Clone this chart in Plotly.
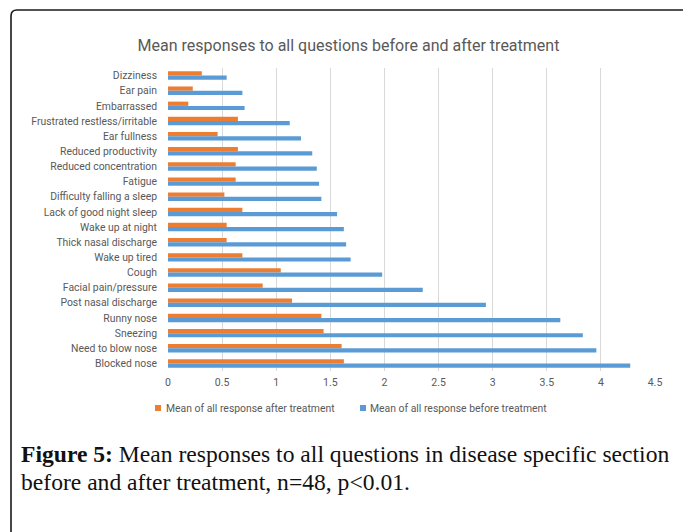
import plotly.graph_objects as go

categories = [
    "Dizziness", "Ear pain", "Embarrassed", "Frustrated restless/irritable",
    "Ear fullness", "Reduced productivity", "Reduced concentration", "Fatigue",
    "Difficulty falling a sleep", "Lack of good night sleep", "Wake up at night",
    "Thick nasal discharge", "Wake up tired", "Cough", "Facial pain/pressure",
    "Post nasal discharge", "Runny nose", "Sneezing", "Need to blow nose",
    "Blocked nose",
]
after_treatment = [
    0.3125, 0.229, 0.1875, 0.646, 0.458, 0.646, 0.625, 0.625, 0.521, 0.6875,
    0.542, 0.542, 0.6875, 1.042, 0.875, 1.146, 1.417, 1.4375, 1.604, 1.625,
]
before_treatment = [
    0.542, 0.6875, 0.708, 1.125, 1.229, 1.333, 1.375, 1.396, 1.417, 1.5625,
    1.625, 1.646, 1.6875, 1.979, 2.354, 2.9375, 3.625, 3.833, 3.958, 4.271,
]
x_ticks = [0, 0.5, 1, 1.5, 2, 2.5, 3, 3.5, 4, 4.5]
after_name = "Mean of all response after treatment"
before_name = "Mean of all response before treatment"
title_text = "Mean responses to all questions before and after treatment"
caption_line1 = "<b>Figure 5:</b> Mean responses to all questions in disease specific section"
caption_line2 = "before and after treatment, n=48, p<0.01."

ORANGE = "#ED7D31"
BLUE = "#5B9BD5"
GRAY = "#595959"
FONT = "Roboto, sans-serif"
SERIF = "Liberation Serif, Times New Roman, serif"

W, H = 683, 532
L, R, T, B = 168, 28, 68, 161
PW, PH = W - L - R, H - T - B


def px2x(px):
    return (px - L) / PW


def px2y(py):
    return (H - B - py) / PH


fig = go.Figure()
fig.add_trace(go.Bar(y=categories, x=after_treatment, orientation="h",
                     name=after_name, marker=dict(color=ORANGE, line=dict(width=0)),
                     showlegend=False))
fig.add_trace(go.Bar(y=categories, x=before_treatment, orientation="h",
                     name=before_name, marker=dict(color=BLUE, line=dict(width=0)),
                     showlegend=False))

# frame
frame_path = (f"M {px2x(11)},{px2y(534)} L {px2x(11)},{px2y(16)} "
              f"Q {px2x(11)},{px2y(10)} {px2x(17)},{px2y(10)} L {px2x(684)},{px2y(10)}")
shapes = [dict(type="path", xref="paper", yref="paper", path=frame_path,
               line=dict(color="#1a1a1a", width=1.6))]

# legend squares
for x0, col in [(155, ORANGE), (360, BLUE)]:
    shapes.append(dict(type="rect", xref="paper", yref="paper",
                       x0=px2x(x0), x1=px2x(x0 + 6), y0=px2y(411), y1=px2y(405),
                       fillcolor=col, line=dict(width=0)))

annotations = [
    dict(xref="paper", yref="paper", x=px2x(164), y=px2y(408), text=after_name,
         showarrow=False, xanchor="left", yanchor="middle",
         font=dict(family=FONT, size=10.4, color=GRAY)),
    dict(xref="paper", yref="paper", x=px2x(368), y=px2y(408), text=before_name,
         showarrow=False, xanchor="left", yanchor="middle",
         font=dict(family=FONT, size=10.4, color=GRAY)),
    dict(xref="paper", yref="paper", x=px2x(19), y=px2y(454), text=caption_line1,
         showarrow=False, xanchor="left", yanchor="middle",
         font=dict(family=SERIF, size=23.6, color="#111111")),
    dict(xref="paper", yref="paper", x=px2x(19), y=px2y(482), text=caption_line2,
         showarrow=False, xanchor="left", yanchor="middle",
         font=dict(family=SERIF, size=23.6, color="#111111")),
]

fig.update_layout(
    width=W, height=H,
    margin=dict(l=L, r=R, t=T, b=B, pad=0),
    paper_bgcolor="white", plot_bgcolor="white",
    barmode="group", bargap=0.44, bargroupgap=0,
    title=dict(text=title_text, x=348.5 / W, xref="container", xanchor="center",
               y=1 - 45 / H, yref="container", yanchor="middle",
               font=dict(family=FONT, size=16, color=GRAY)),
    xaxis=dict(range=[0, 4.5], tickvals=x_ticks, ticktext=[f"{v:g}" for v in x_ticks],
               showgrid=True, gridcolor="#D9D9D9", gridwidth=1, zeroline=False,
               showline=False, ticks="outside", ticklen=1, tickcolor="rgba(0,0,0,0)",
               tickfont=dict(family=FONT, size=10.5, color=GRAY), fixedrange=True),
    yaxis=dict(categoryorder="array", categoryarray=categories, autorange="reversed",
               showgrid=False, zeroline=False, showline=False, ticks="",
               ticklabelstandoff=10,
               tickfont=dict(family=FONT, size=10.4, color=GRAY), fixedrange=True),
    shapes=shapes, annotations=annotations, showlegend=False,
)

fig.write_html("out.html", config={"displayModeBar": False},
               post_script="document.body.style.margin='0';")
